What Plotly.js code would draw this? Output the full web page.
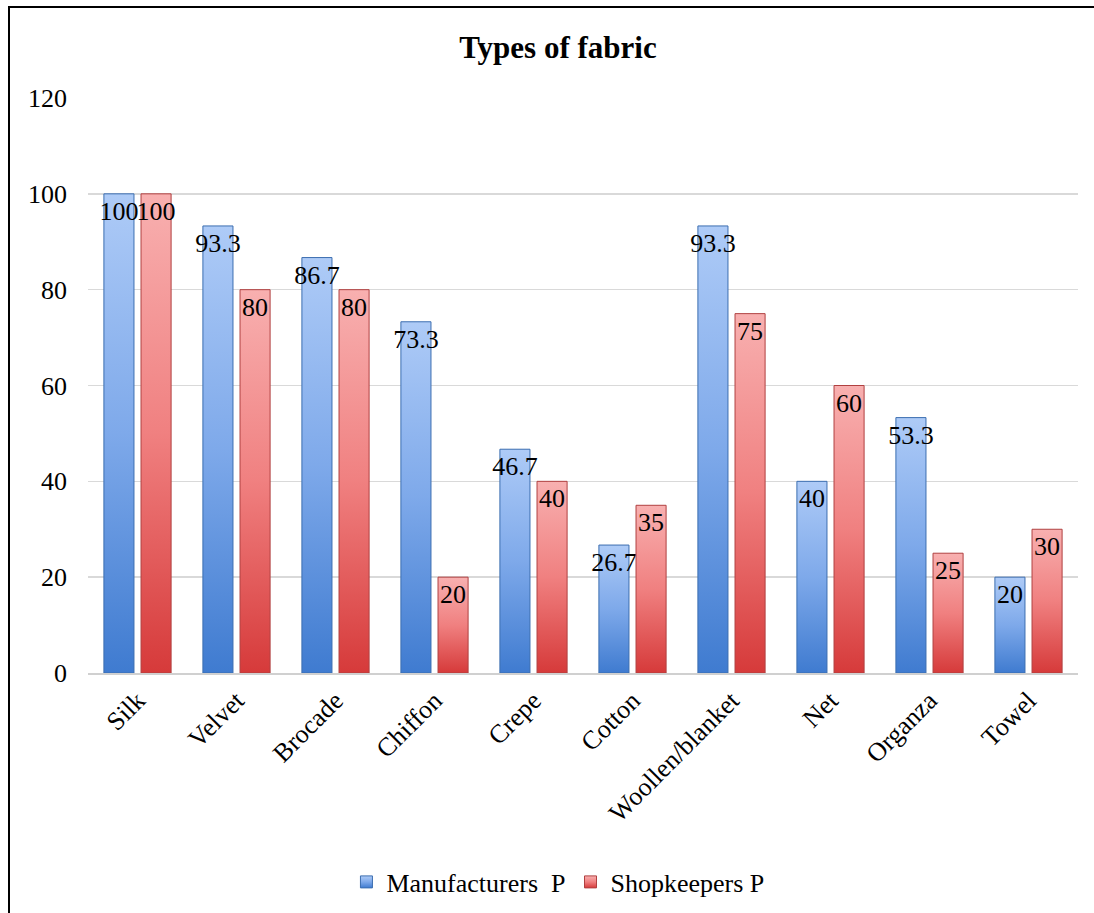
<!DOCTYPE html>
<html>
<head>
<meta charset="utf-8">
<script src="https://cdn.plot.ly/plotly-3.0.1.min.js"></script>
<style>
  html, body { margin: 0; padding: 0; background: #fff; }
  #wrap { position: relative; width: 1094px; height: 913px; }
  #chart { position: absolute; left: 0; top: 0; width: 1094px; height: 913px; }
  #frame { position: absolute; left: 8px; top: 6px; width: 1090px; height: 910px;
           border-left: 2px solid #000; border-top: 2px solid #000; pointer-events: none; }
</style>
</head>
<body>
<div id="wrap">
  <div id="chart"></div>
  <div id="frame"></div>
</div>
<script>
const categories = ["Silk", "Velvet", "Brocade", "Chiffon", "Crepe", "Cotton", "Woollen/blanket", "Net", "Organza", "Towel"];
const manufacturers = [100, 93.3, 86.7, 73.3, 46.7, 26.7, 93.3, 40, 53.3, 20];
const shopkeepers = [100, 80, 80, 20, 40, 35, 75, 60, 25, 30];
const seriesNames = ["Manufacturers\u00a0\u00a0P", "Shopkeepers P"];
const yTicks = [0, 20, 40, 60, 80, 100, 120];

const serif = "'Liberation Serif', 'Times New Roman', Times, serif";

function barTrace(name, values, color, line) {
  return {
    type: "bar",
    name: name,
    x: categories,
    y: values,
    text: values.map(v => String(v)),
    textposition: "inside",
    insidetextanchor: "end",
    constraintext: "none",
    textangle: 0,
    insidetextfont: { family: serif, size: 26, color: "#000" },
    marker: { color: color, line: { color: line, width: 1 } },
    hoverinfo: "x+y"
  };
}

const data = [
  barTrace(seriesNames[0], manufacturers, "#6fa0e8", "#3c6eb0"),
  barTrace(seriesNames[1], shopkeepers, "#ec7070", "#b04040")
];

const layout = {
  width: 1094,
  height: 913,
  margin: { l: 88, r: 16, t: 98, b: 240 },
  paper_bgcolor: "#ffffff",
  plot_bgcolor: "#ffffff",
  font: { family: serif, size: 26, color: "#000" },
  title: {
    text: "<b>Types of fabric</b>",
    font: { family: serif, size: 31, color: "#000" },
    xref: "container", x: 0.51, xanchor: "center",
    yref: "container", y: 1 - 47 / 913, yanchor: "middle"
  },
  barmode: "group",
  bargap: 0.25,
  bargroupgap: 0.19,
  xaxis: {
    type: "category",
    tickangle: -45,
    tickfont: { family: serif, size: 26, color: "#000" },
    showline: true,
    linecolor: "#d0d0d0",
    linewidth: 2,
    ticks: "",
    showgrid: false,
    zeroline: false,
    fixedrange: true
  },
  yaxis: {
    range: [0, 120],
    tickvals: yTicks,
    ticktext: yTicks.map(String),
    tickfont: { family: serif, size: 26, color: "#000" },
    showgrid: true,
    gridcolor: "#d9d9d9",
    gridwidth: 1.5,
    zeroline: false,
    showline: false,
    ticks: "",
    ticklabelstandoff: 20,
    fixedrange: true
  },
  legend: {
    orientation: "h",
    xref: "container", x: 0.51, xanchor: "center",
    yref: "container", y: 1 - 882 / 913, yanchor: "middle",
    font: { family: serif, size: 26, color: "#000" },
    itemwidth: 30,
    tracegroupgap: 0
  },
  showlegend: true
};

Plotly.newPlot("chart", data, layout, { displayModeBar: false, staticPlot: true }).then(function (gd) {
  const svgNS = "http://www.w3.org/2000/svg";
  const svg = gd.querySelector("svg.main-svg");
  let defs = svg.querySelector("defs");
  if (!defs) { defs = document.createElementNS(svgNS, "defs"); svg.insertBefore(defs, svg.firstChild); }
  function addGrad(id, top, mid, bottom) {
    const g = document.createElementNS(svgNS, "linearGradient");
    g.setAttribute("id", id);
    g.setAttribute("x1", "0"); g.setAttribute("y1", "0");
    g.setAttribute("x2", "0"); g.setAttribute("y2", "1");
    [[0, top], [0.5, mid], [1, bottom]].forEach(function (s) {
      const st = document.createElementNS(svgNS, "stop");
      st.setAttribute("offset", s[0]);
      st.setAttribute("stop-color", s[1]);
      g.appendChild(st);
    });
    defs.appendChild(g);
  }
  addGrad("gradBlue", "#aecbf7", "#7ea9ea", "#3f7bd0");
  addGrad("gradRed", "#f8b0b0", "#f08080", "#d63a3a");
  const grads = ["url(#gradBlue)", "url(#gradRed)"];
  gd.querySelectorAll(".barlayer .trace").forEach(function (tr, i) {
    tr.querySelectorAll("path").forEach(function (p) { p.style.fill = grads[i % 2]; });
  });
  gd.querySelectorAll(".legend .traces").forEach(function (tr, i) {
    tr.querySelectorAll(".legendpoints path").forEach(function (p) { p.style.fill = grads[i % 2]; });
  });
});
</script>
</body>
</html>
